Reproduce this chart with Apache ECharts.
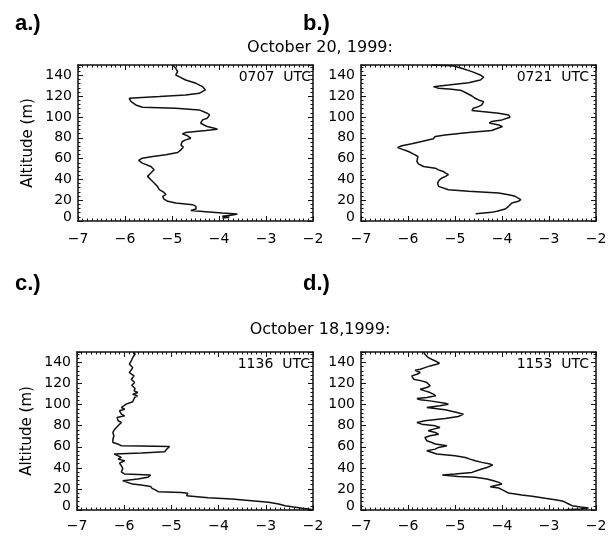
<!DOCTYPE html>
<html>
<head>
<meta charset="utf-8">
<script src="https://cdn.jsdelivr.net/npm/echarts@6/dist/echarts.min.js"></script>
<style>html,body{margin:0;padding:0;background:#fff;}#c{width:613px;height:536px;}</style>
</head>
<body>
<div id="c"></div>
<script>
// ---- Data ----
var xTicks = [-7, -6, -5, -4, -3, -2];
var yTicks = [0, 20, 40, 60, 80, 100, 120, 140];
var panelTimes = ['0707 UTC', '0721 UTC', '1136 UTC', '1153 UTC'];
var dateTop = 'October 20, 1999:';
var dateBottom = 'October 18,1999:';

// a.) 0707 UTC
var altA = [150.0,146.8,143.6,140.4,138.8,135.6,132.4,129.2,126.0,122.8,121.2,119.6,118.0,117.0,114.8,111.6,109.4,108.4,106.8,103.6,102.0,98.8,97.2,94.0,92.4,90.8,89.2,88.3,87.0,85.1,83.8,81.9,79.6,78.0,76.4,73.2,71.0,68.4,65.9,63.6,62.0,60.4,58.2,55.6,52.4,49.2,46.1,42.9,39.7,36.5,33.3,30.1,27.5,25.3,23.7,21.1,18.9,17.3,15.7,14.1,11.5,10.2,9.0,7.7,6.7,5.8,4.5,3.5,2.9];
var valA = [-4.99,-4.92,-4.88,-4.92,-4.85,-4.71,-4.49,-4.35,-4.29,-4.42,-4.71,-5.27,-5.91,-5.94,-5.87,-5.77,-5.63,-4.92,-4.42,-4.25,-4.20,-4.25,-4.35,-4.39,-4.35,-4.25,-4.10,-4.03,-4.28,-4.71,-4.78,-4.67,-4.60,-4.71,-4.78,-4.81,-4.76,-4.81,-4.88,-5.13,-5.41,-5.63,-5.71,-5.63,-5.45,-5.38,-5.45,-5.52,-5.45,-5.38,-5.31,-5.27,-5.17,-5.13,-5.20,-5.17,-5.09,-4.92,-4.56,-4.49,-4.49,-4.60,-4.28,-3.93,-3.61,-3.71,-3.93,-3.78,-3.93];

// b.) 0721 UTC
var altB = [150.0,149.5,149.0,146.8,143.6,140.4,138.2,135.6,133.0,130.8,129.2,127.6,126.6,125.4,122.8,120.2,118.0,116.4,114.8,113.2,111.6,110.0,108.4,106.2,105.2,103.6,102.0,99.8,97.2,95.6,94.3,92.4,90.8,89.2,87.0,85.1,82.8,81.2,79.0,76.4,74.2,72.3,70.7,69.1,66.8,65.2,63.6,62.0,60.4,57.2,55.0,52.4,50.8,49.2,47.6,46.1,44.5,42.9,41.3,39.0,36.5,33.3,31.7,30.1,28.5,26.9,25.3,23.7,20.5,18.9,17.3,14.1,11.5,9.3,8.3,7.0];
var valB = [-5.49,-5.20,-5.03,-4.86,-4.64,-4.46,-4.39,-4.46,-4.71,-5.14,-5.46,-5.35,-5.07,-4.86,-4.75,-4.64,-4.57,-4.50,-4.39,-4.39,-4.43,-4.50,-4.61,-4.64,-4.43,-4.07,-3.86,-3.83,-4.00,-4.22,-4.27,-4.07,-3.99,-4.00,-4.22,-4.71,-5.21,-5.42,-5.46,-5.71,-5.92,-6.13,-6.22,-6.13,-5.99,-5.92,-5.85,-5.79,-5.78,-5.81,-5.78,-5.67,-5.42,-5.35,-5.25,-5.20,-5.14,-5.20,-5.28,-5.34,-5.37,-5.35,-5.32,-5.14,-4.71,-4.07,-3.86,-3.72,-3.60,-3.65,-3.79,-3.86,-3.93,-4.11,-4.22,-4.56];

// c.) 1136 UTC
var altC = [150.1,147.9,144.7,141.5,138.4,135.2,133.0,130.5,127.3,124.2,121.0,118.5,115.3,113.1,111.5,109.9,108.4,106.8,105.2,102.7,100.5,98.9,97.3,95.7,94.2,92.6,91.0,89.4,87.8,86.3,84.7,83.1,81.5,79.9,78.4,76.1,73.6,72.0,70.5,68.9,66.7,64.1,62.6,61.0,60.7,60.3,57.2,55.3,54.0,53.1,51.5,49.9,48.3,46.8,44.5,42.0,39.5,38.2,36.3,34.1,33.2,31.0,29.4,27.8,26.9,26.2,24.6,23.7,22.4,20.5,19.3,17.4,16.7,15.8,14.2,13.6,13.0,11.7,10.4,8.8,7.3,5.7,4.1,2.8,1.6,0.9,0.3];
var valC = [-5.79,-5.77,-5.82,-5.85,-5.89,-5.82,-5.85,-5.89,-5.79,-5.85,-5.78,-5.84,-5.77,-5.79,-5.71,-5.82,-5.72,-5.78,-5.74,-5.82,-5.96,-5.99,-6.06,-5.99,-6.10,-6.13,-6.06,-5.99,-6.15,-6.17,-6.13,-6.06,-6.03,-6.13,-6.17,-6.21,-6.24,-6.26,-6.22,-6.26,-6.24,-6.24,-6.13,-6.06,-5.64,-5.04,-5.11,-5.14,-5.64,-6.21,-6.17,-6.06,-6.13,-5.99,-6.10,-6.06,-6.03,-5.99,-6.06,-5.99,-5.44,-5.50,-5.71,-6.03,-6.06,-6.03,-5.82,-5.64,-5.44,-5.41,-5.35,-5.28,-4.79,-4.65,-4.61,-4.68,-4.65,-4.22,-3.72,-3.30,-2.94,-2.73,-2.59,-2.41,-2.23,-2.09,-2.02];

// d.) 1153 UTC
var altD = [150.1,147.9,146.3,144.7,143.1,141.5,139.3,138.4,136.8,135.2,133.6,132.7,130.5,128.9,127.3,125.8,124.2,122.6,121.0,119.4,117.9,116.3,114.7,113.1,111.5,110.0,108.4,106.8,105.8,104.6,103.6,101.4,100.5,98.9,97.3,96.4,95.1,92.6,91.0,88.8,86.9,84.7,83.1,81.5,79.9,78.4,76.8,75.2,73.6,72.0,70.5,68.9,67.3,65.7,64.1,62.6,61.0,60.3,59.4,57.8,56.2,55.3,53.1,51.5,49.9,48.3,46.8,45.2,43.6,42.7,40.4,38.9,37.3,35.7,34.1,33.2,31.9,31.0,29.4,27.8,26.2,24.6,23.1,22.1,20.9,19.3,17.7,16.1,14.2,13.0,11.1,9.8,8.5,7.3,5.7,4.1,2.8,1.9,0.9,0.3];
var valD = [-5.67,-5.64,-5.60,-5.57,-5.53,-5.42,-5.33,-5.39,-5.53,-5.64,-5.74,-5.85,-5.74,-5.81,-5.92,-5.96,-5.88,-5.71,-5.60,-5.64,-5.53,-5.60,-5.74,-5.64,-5.53,-5.46,-5.41,-5.60,-5.81,-5.74,-5.53,-5.21,-5.14,-5.32,-5.60,-5.57,-5.21,-4.96,-4.82,-4.93,-5.21,-5.64,-5.81,-5.71,-5.42,-5.32,-5.46,-5.57,-5.42,-5.35,-5.53,-5.64,-5.67,-5.60,-5.49,-5.42,-5.17,-5.14,-5.35,-5.42,-5.60,-5.64,-5.39,-5.00,-4.78,-4.68,-4.57,-4.43,-4.25,-4.20,-4.32,-4.43,-4.54,-4.64,-5.00,-5.27,-4.93,-4.57,-4.32,-4.18,-4.07,-4.00,-4.04,-4.25,-4.07,-4.00,-3.93,-3.86,-3.58,-3.36,-3.08,-2.87,-2.72,-2.65,-2.58,-2.51,-2.33,-2.16,-2.33,-2.65];

// ---- Build chart ----
var profiles = [[valA, altA], [valB, altB], [valC, altC], [valD, altD]];
var grids = [
  {left: 78, top: 65, width: 235, height: 156},
  {left: 361, top: 65, width: 235, height: 156},
  {left: 77, top: 352, width: 236, height: 158},
  {left: 361, top: 352, width: 235, height: 158}
];
var FONT = 'DejaVu Sans';
var lineSt = {show: true, onZero: false, lineStyle: {color: '#111', width: 1.5}};
var tickSt = {show: true, inside: true, length: 5, lineStyle: {color: '#111', width: 1}};
function minusFmt(v) { return String(v).replace('-', '\u2212'); }

var xAxes = [], yAxes = [], series = [];
grids.forEach(function (g, i) {
  var bottomMargin = i < 2 ? 11 : 9;
  xAxes.push({
    gridIndex: i, type: 'value', position: 'bottom',
    min: xTicks[0], max: xTicks[xTicks.length - 1], interval: 1,
    axisLine: lineSt, axisTick: tickSt,
    minorTick: {show: true, splitNumber: 10, length: 2.5, lineStyle: {color: '#111', width: 1}},
    splitLine: {show: false}, minorSplitLine: {show: false},
    axisLabel: {show: true, margin: bottomMargin, color: '#000', fontFamily: FONT, fontSize: 14, formatter: minusFmt}
  });
  xAxes.push({
    gridIndex: i, type: 'value', position: 'top',
    min: xTicks[0], max: xTicks[xTicks.length - 1], interval: 1,
    axisLine: lineSt, axisTick: tickSt,
    minorTick: {show: true, splitNumber: 10, length: 2.5, lineStyle: {color: '#111', width: 1}},
    splitLine: {show: false}, axisLabel: {show: false}
  });
  yAxes.push({
    gridIndex: i, type: 'value', position: 'left',
    min: 0, max: 150, interval: 20,
    name: (i % 2 === 0) ? 'Altitude (m)' : '',
    nameLocation: 'middle', nameGap: 42,
    nameTextStyle: {fontFamily: FONT, fontSize: 15, color: '#000'},
    axisLine: lineSt, axisTick: tickSt,
    minorTick: {show: true, splitNumber: 5, length: 2.5, lineStyle: {color: '#111', width: 1}},
    splitLine: {show: false},
    axisLabel: {
      show: true, margin: 6, color: '#000', fontFamily: FONT, fontSize: 14, showMaxLabel: false,
      formatter: function (v) { return v === 0 ? '{z|0}' : String(v); },
      rich: {z: {fontFamily: FONT, fontSize: 14, color: '#000', padding: [0, 0, 8, 0]}}
    }
  });
  yAxes.push({
    gridIndex: i, type: 'value', position: 'right',
    min: 0, max: 150, interval: 20,
    axisLine: lineSt, axisTick: tickSt,
    minorTick: {show: true, splitNumber: 5, length: 2.5, lineStyle: {color: '#111', width: 1}},
    splitLine: {show: false}, axisLabel: {show: false}
  });
  var v = profiles[i][0], a = profiles[i][1];
  var data = v.map(function (x, k) { return [x, a[k]]; });
  series.push({
    type: 'line', xAxisIndex: 2 * i, yAxisIndex: 2 * i, data: data,
    showSymbol: false, symbol: 'none', smooth: false, clip: true,
    lineStyle: {color: '#111', width: 1.5}, animation: false
  });
});

var txt = function (x, y, s, font, align) {
  return {type: 'text', x: x, y: y, style: {text: s, font: font, fill: '#000', align: align || 'left', verticalAlign: 'middle'}};
};
var labelFont = 'bold 22px "Liberation Sans", Arial, sans-serif';
var dateFont = '16px "DejaVu Sans"';
var utcFont = '14px "DejaVu Sans"';
var graphic = [
  txt(15, 24, 'a.)', labelFont), txt(303, 24, 'b.)', labelFont),
  txt(15, 284, 'c.)', labelFont), txt(303, 284, 'd.)', labelFont),
  txt(320, 48, dateTop, dateFont, 'center'),
  txt(320, 330, dateBottom, dateFont, 'center'),
  txt(311, 77, panelTimes[0].replace(' ', '  '), utcFont, 'right'),
  txt(589, 77, panelTimes[1].replace(' ', '  '), utcFont, 'right'),
  txt(310, 364, panelTimes[2].replace(' ', '  '), utcFont, 'right'),
  txt(589, 364, panelTimes[3].replace(' ', '  '), utcFont, 'right')
];

var chart = echarts.init(document.getElementById('c'), null, {renderer: 'canvas'});
chart.setOption({
  animation: false,
  backgroundColor: '#fff',
  grid: grids,
  xAxis: xAxes,
  yAxis: yAxes,
  series: series,
  graphic: graphic
});
</script>
</body>
</html>
